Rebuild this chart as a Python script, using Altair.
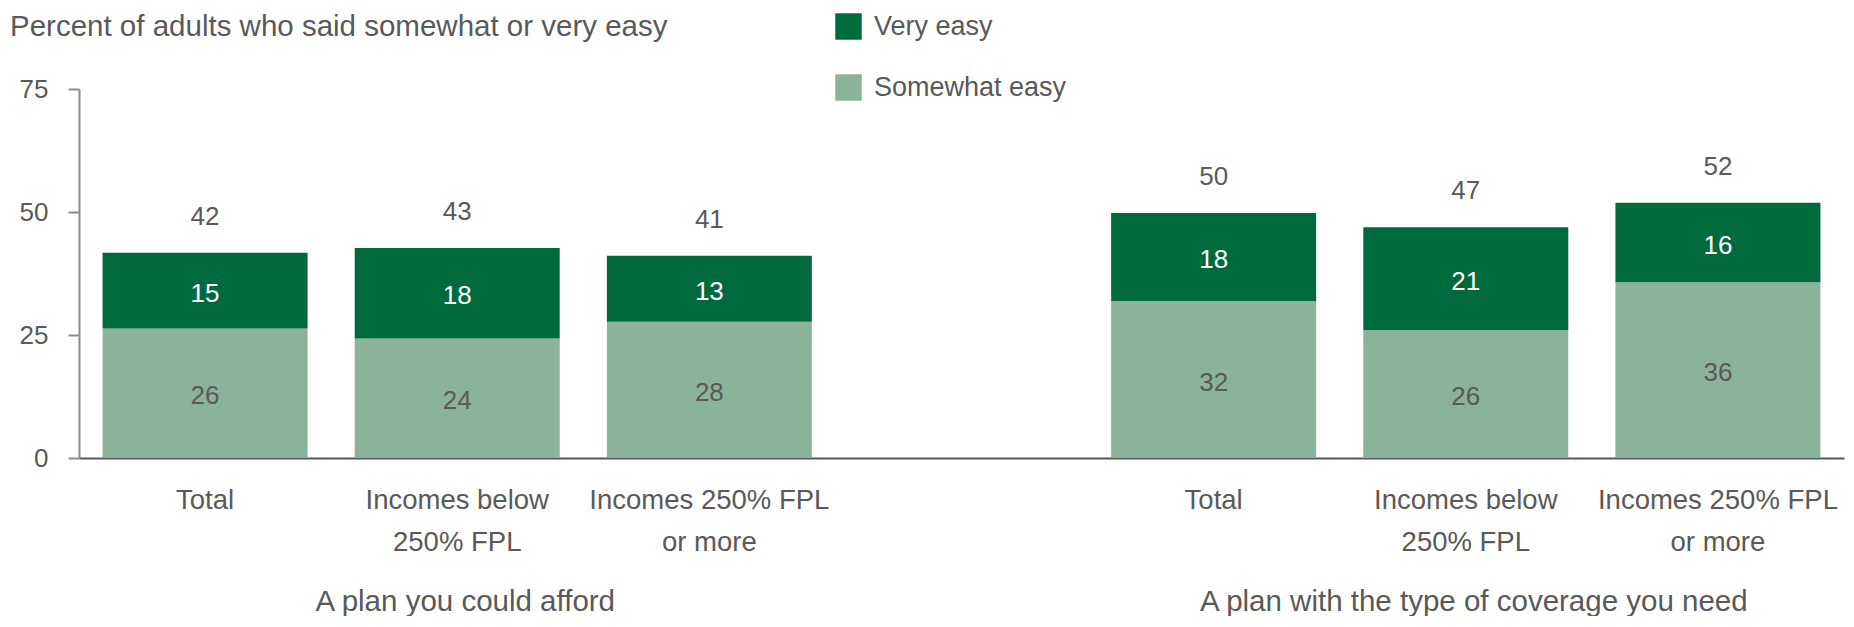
import altair as alt
import pandas as pd

# ---- data ----
keys = ["g1_total", "g1_low", "g1_high", "gap", "g2_total", "g2_low", "g2_high"]
bar_keys = ["g1_total", "g1_low", "g1_high", "g2_total", "g2_low", "g2_high"]
tick_labels = {
    "g1_total": ["Total"],
    "g1_low": ["Incomes below", "250% FPL"],
    "g1_high": ["Incomes 250% FPL", "or more"],
    "gap": [""],
    "g2_total": ["Total"],
    "g2_low": ["Incomes below", "250% FPL"],
    "g2_high": ["Incomes 250% FPL", "or more"],
}
somewhat_vals = [26.3, 24.3, 27.7, 31.9, 26.0, 35.7]
very_vals = [15.4, 18.4, 13.4, 17.9, 20.9, 16.2]
somewhat_labels = ["26", "24", "28", "32", "26", "36"]
very_labels = ["15", "18", "13", "18", "21", "16"]
total_labels = ["42", "43", "41", "50", "47", "52"]
group_keys = ["g1_low", "g2_low"]
group_labels = ["A plan you could afford", "A plan with the type of coverage you need"]
series = ["Very easy", "Somewhat easy"]
colors = ["#006A3F", "#8BB29B"]
title_text = "Percent of adults who said somewhat or very easy"

FONT = "Liberation Sans"
GRAY = "#595959"
FS = 26
W, H = 1765, 369

rows = []
for k, sv, vv, sl, vl in zip(bar_keys, somewhat_vals, very_vals, somewhat_labels, very_labels):
    rows.append({"key": k, "segment": "Somewhat easy", "value": sv, "label": sl, "ord": 0})
    rows.append({"key": k, "segment": "Very easy", "value": vv, "label": vl, "ord": 1})
df = pd.DataFrame(rows)

tot = pd.DataFrame({
    "key": bar_keys,
    "total": [s + v for s, v in zip(somewhat_vals, very_vals)],
    "label": total_labels,
})
grp = pd.DataFrame({"key": group_keys, "label": group_labels})
ttl = pd.DataFrame({"label": [title_text]})

# labelExpr building multi-line tick labels
expr = "''"
for k in reversed(keys):
    arr = "[" + ",".join("'" + s + "'" for s in tick_labels[k]) + "]"
    expr = f"datum.value == '{k}' ? {arr} : ({expr})"

x_enc = alt.X(
    "key:N",
    scale=alt.Scale(domain=keys, paddingInner=0.187, paddingOuter=0.0935),
    axis=alt.Axis(
        title=None, labelExpr=expr, ticks=False, labelAngle=0,
        labelFont=FONT, labelFontSize=27.5, labelColor=GRAY,
        labelPadding=28, labelLineHeight=42, labelBaseline="top",
        domainColor=GRAY, domainWidth=2, labelLimit=400,
    ),
)

bars = alt.Chart(df).mark_bar(size=205).encode(
    x=x_enc,
    y=alt.Y(
        "value:Q", stack="zero",
        scale=alt.Scale(domain=[0, 75], nice=False),
        axis=alt.Axis(
            title=None, values=[0, 25, 50, 75], grid=False,
            labelFont=FONT, labelFontSize=FS, labelColor=GRAY,
            tickSize=11, tickColor="#8C8C8C", tickWidth=2,
            domainColor="#8C8C8C", domainWidth=2, labelPadding=20,
        ),
    ),
    color=alt.Color(
        "segment:N",
        scale=alt.Scale(domain=series, range=colors),
        legend=alt.Legend(
            title=None, orient="none", legendX=756, legendY=-76,
            symbolType="square", symbolSize=700, symbolStrokeWidth=0,
            labelFont=FONT, labelFontSize=27, labelColor=GRAY, labelLimit=400,
            labelOffset=12, rowPadding=33, padding=0,
        ),
    ),
    order=alt.Order("ord:Q"),
)

def seg_text(segment, color):
    return (
        alt.Chart(df)
        .transform_stack(stack="value", groupby=["key"], sort=[alt.SortField("ord")], as_=["y0", "y1"])
        .transform_calculate(mid="(datum.y0 + datum.y1) / 2")
        .transform_filter(alt.datum.segment == segment)
        .mark_text(font=FONT, fontSize=FS, color=color, baseline="middle", dy=3)
        .encode(x=alt.X("key:N"), y=alt.Y("mid:Q"), text="label:N")
    )

somewhat_text = seg_text("Somewhat easy", GRAY)
very_text = seg_text("Very easy", "#FFFFFF")

total_text = alt.Chart(tot).mark_text(
    font=FONT, fontSize=FS, color=GRAY, baseline="middle", dy=-36
).encode(x=alt.X("key:N"), y=alt.Y("total:Q"), text="label:N")

group_text = alt.Chart(grp).mark_text(
    font=FONT, fontSize=29.5, color=GRAY, baseline="middle", dx=8
).encode(x=alt.X("key:N"), y=alt.value(513), text="label:N")

title_mark = alt.Chart(ttl).mark_text(
    font=FONT, fontSize=29.5, color=GRAY, baseline="middle", align="left"
).encode(x=alt.value(-69), y=alt.value(-62), text="label:N")

chart = (
    alt.layer(bars, somewhat_text, very_text, total_text, group_text, title_mark)
    .properties(
        width=W, height=H,
        autosize=alt.AutoSizeParams(type="none"),
        padding={"left": 71, "top": 81, "right": 2, "bottom": 158},
    )
    .configure_view(stroke=None)
)

chart.save("out.html", embed_options={"renderer": "svg", "actions": False})
